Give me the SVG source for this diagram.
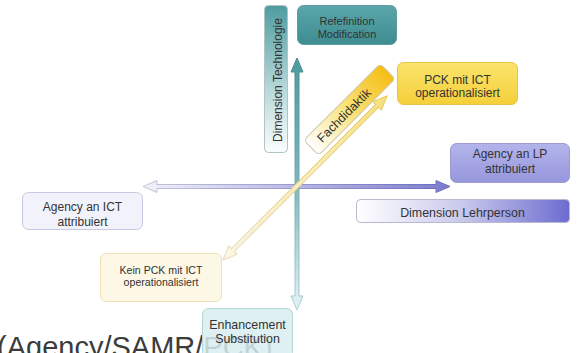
<svg xmlns="http://www.w3.org/2000/svg" width="578" height="353" viewBox="0 0 578 353">
<style>
text{font-family:"Liberation Sans",Arial,sans-serif;fill:#333;text-anchor:middle}
.t11{font-size:11px}
.t12{font-size:12px}
.big{font-size:29px;fill:#3c3c3c;text-anchor:start}
</style>
<defs>
<linearGradient id="gV" gradientUnits="userSpaceOnUse" x1="0" y1="58" x2="0" y2="310">
<stop offset="0" stop-color="#4f9aa0"/><stop offset="0.5" stop-color="#7fb6bc"/><stop offset="1" stop-color="#e6f3f5"/>
</linearGradient>
<linearGradient id="gVs" gradientUnits="userSpaceOnUse" x1="0" y1="58" x2="0" y2="310">
<stop offset="0" stop-color="#3f8a90"/><stop offset="1" stop-color="#a9cfd6"/>
</linearGradient>
<linearGradient id="gH" gradientUnits="userSpaceOnUse" x1="143" y1="0" x2="450" y2="0">
<stop offset="0" stop-color="#f2f2fa"/><stop offset="0.5" stop-color="#b8b8e4"/><stop offset="1" stop-color="#7c7cd0"/>
</linearGradient>
<linearGradient id="gHs" gradientUnits="userSpaceOnUse" x1="143" y1="0" x2="450" y2="0">
<stop offset="0" stop-color="#c4c4dc"/><stop offset="1" stop-color="#6c6cc0"/>
</linearGradient>
<linearGradient id="gD" gradientUnits="userSpaceOnUse" x1="0" y1="0" x2="232" y2="0">
<stop offset="0" stop-color="#fbf7e6"/><stop offset="0.6" stop-color="#f8ecb4"/><stop offset="1" stop-color="#f6e080"/>
</linearGradient>
<linearGradient id="gDs" gradientUnits="userSpaceOnUse" x1="0" y1="0" x2="232" y2="0">
<stop offset="0" stop-color="#e6dcc0"/><stop offset="1" stop-color="#e8c850"/>
</linearGradient>
<linearGradient id="gTeal" x1="0" y1="0" x2="0" y2="1">
<stop offset="0" stop-color="#5aa6aa"/><stop offset="1" stop-color="#3f8c90"/>
</linearGradient>
<linearGradient id="gDimT" x1="0" y1="0" x2="0" y2="1">
<stop offset="0" stop-color="#4f9ca0"/><stop offset="0.55" stop-color="#b4d6d8"/><stop offset="1" stop-color="#fbfdfd"/>
</linearGradient>
<linearGradient id="gYel" x1="0" y1="0" x2="0" y2="1">
<stop offset="0" stop-color="#fbe46e"/><stop offset="1" stop-color="#f5cf3a"/>
</linearGradient>
<linearGradient id="gFach" x1="0" y1="0" x2="1" y2="0">
<stop offset="0" stop-color="#ffffff"/><stop offset="0.5" stop-color="#f9e27a"/><stop offset="1" stop-color="#f5bd12"/>
</linearGradient>
<linearGradient id="gLP" x1="0" y1="0" x2="0" y2="1">
<stop offset="0" stop-color="#b4b4ec"/><stop offset="1" stop-color="#9696dc"/>
</linearGradient>
<linearGradient id="gDimL" x1="0" y1="0" x2="1" y2="0">
<stop offset="0" stop-color="#ffffff"/><stop offset="0.5" stop-color="#c8c8ec"/><stop offset="1" stop-color="#6c6cd0"/>
</linearGradient>
</defs>

<text class="big" x="-3" y="357">(Agency/SAMR/PCK)</text>

<g id="connectors">
<polygon points="143,186.5 157,180.5 157,184.5 436,184.5 436,180.5 450,186.5 436,192.5 436,188.5 157,188.5 157,192.5" fill="url(#gH)" stroke="url(#gHs)" stroke-width="1"/>
<polygon points="297,58 303,72 299,72 299,296 303,296 297,310 291,296 295,296 295,72 291,72" fill="url(#gV)" stroke="url(#gVs)" stroke-width="1"/>
<g transform="translate(223,260) rotate(-45)">
<polygon points="0,0 14,-6 14,-2 218,-2 218,-6 232,0 218,6 218,2 14,2 14,6" fill="url(#gD)" stroke="url(#gDs)" stroke-width="1"/>
</g>
</g>

<g id="dim-technologie">
<rect x="264.5" y="5.5" width="23" height="147" rx="4" fill="url(#gDimT)" stroke="#b4c4c4"/>
<text class="t12" transform="translate(281.5,80) rotate(-90)" font-size="12.5">Dimension Technologie</text>
</g>

<g id="refefinition">
<rect x="297.5" y="5.5" width="99" height="39" rx="6" fill="url(#gTeal)" stroke="#5d9ea2"/>
<text class="t11" x="347" y="24.5">Refefinition</text>
<text class="t11" x="347" y="37.5">Modification</text>
</g>

<g id="fachdidaktik">
<g transform="translate(349.5,109.5) rotate(-45)">
<rect x="-54" y="-10.5" width="108" height="21" rx="4" fill="url(#gFach)" stroke="#d0c8a8"/>
<text x="-8" y="4.5" font-size="12.5">Fachdidaktik</text>
</g>
</g>

<g id="pck-ict">
<rect x="397.5" y="62.5" width="120" height="42" rx="6" fill="url(#gYel)" stroke="#e6c446"/>
<text class="t12" x="457.5" y="83.5">PCK mit ICT</text>
<text class="t12" x="457.5" y="96.5">operationalisiert</text>
</g>

<g id="agency-lp">
<rect x="450.5" y="143.5" width="119" height="39" rx="6" fill="url(#gLP)" stroke="#9a9ad0"/>
<text class="t12" x="510" y="157.5">Agency an LP</text>
<text class="t12" x="510" y="173">attribuiert</text>
</g>

<g id="dim-lehrperson">
<rect x="356.5" y="199.5" width="213" height="23" rx="4" fill="url(#gDimL)" stroke="#b8b8d0"/>
<text x="462.5" y="216.5" font-size="12.4">Dimension Lehrperson</text>
</g>

<g id="agency-ict">
<rect x="22.5" y="192.5" width="120" height="37" rx="6" fill="#f2f2fa" stroke="#c8c8e4"/>
<text class="t12" x="82.5" y="211">Agency an ICT</text>
<text class="t12" x="82.5" y="226">attribuiert</text>
</g>

<g id="kein-pck">
<rect x="100.5" y="253.5" width="121" height="48" rx="6" fill="#fdf8e6" stroke="#ece0b4"/>
<text x="161" y="273.5" font-size="10.6">Kein PCK mit ICT</text>
<text x="161" y="286" font-size="10.6">operationalisiert</text>
</g>

<g id="enhancement">
<rect x="202.5" y="308.5" width="90" height="50" rx="6" fill="#d8edef" fill-opacity="0.85" stroke="#b4d6da"/>
<text x="247.5" y="328.5" font-size="12.4">Enhancement</text>
<text x="247.5" y="343" font-size="12.4">Substitution</text>
</g>
</svg>
